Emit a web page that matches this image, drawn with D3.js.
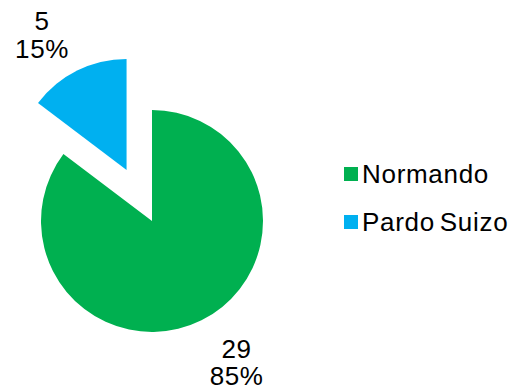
<!DOCTYPE html>
<html>
<head>
<meta charset="utf-8">
<script src="https://cdn.jsdelivr.net/npm/d3@7"></script>
<style>
  html, body { margin: 0; padding: 0; background: #fff; }
  svg { display: block; }
  text { font-family: "Liberation Sans", Arial, sans-serif; fill: #000; }
</style>
</head>
<body>
<svg id="chart" width="522" height="389"></svg>
<script>
// Breed counts
const categories = ["Normando", "Pardo Suizo"];
const counts = [29, 5];
const percentLabels = ["85%", "15%"];
const colors = ["#00B050", "#00B0F0"];

const svg = d3.select("#chart");
const cx = 152, cy = 221, radius = 111;
const explode = [0, 57];        // pull-out distance for each slice
const labelRadius = 162;
const labelShift = -5 * Math.PI / 180;

const pie = d3.pie().sort(null).value(d => d)(counts);
const arc = d3.arc().innerRadius(0).outerRadius(radius);

const g = svg.append("g").attr("transform", `translate(${cx},${cy})`);

pie.forEach((p, i) => {
  const mid = (p.startAngle + p.endAngle) / 2;
  const ox = Math.sin(mid) * explode[i];
  const oy = -Math.cos(mid) * explode[i];
  const sg = g.append("g").attr("transform", `translate(${ox},${oy})`);
  sg.append("path").attr("d", arc(p)).attr("fill", colors[i]);

  const la = mid + labelShift;
  const lx = Math.sin(la) * labelRadius;
  const ly = -Math.cos(la) * labelRadius;
  const t = sg.append("text")
    .attr("text-anchor", "middle")
    .attr("font-size", 26)
    .attr("letter-spacing", "0.6px")
    .attr("x", lx).attr("y", ly);
  t.append("tspan").attr("x", lx).attr("dy", "-0.06em").text(counts[i]);
  t.append("tspan").attr("x", lx).attr("dy", "1.06em").text(percentLabels[i]);
});

// Legend
const legend = svg.append("g").attr("transform", "translate(344,167)");
const legendY = d3.scalePoint().domain(categories).range([0, 48]);
categories.forEach((c, i) => {
  const row = legend.append("g").attr("transform", `translate(0,${legendY(c)})`);
  row.append("rect").attr("width", 14).attr("height", 14).attr("fill", colors[i]);
  row.append("text").attr("x", 18).attr("y", 16).attr("font-size", 26)
    .attr("letter-spacing", "0.7px").attr("word-spacing", "-3px").text(c);
});
</script>
</body>
</html>
